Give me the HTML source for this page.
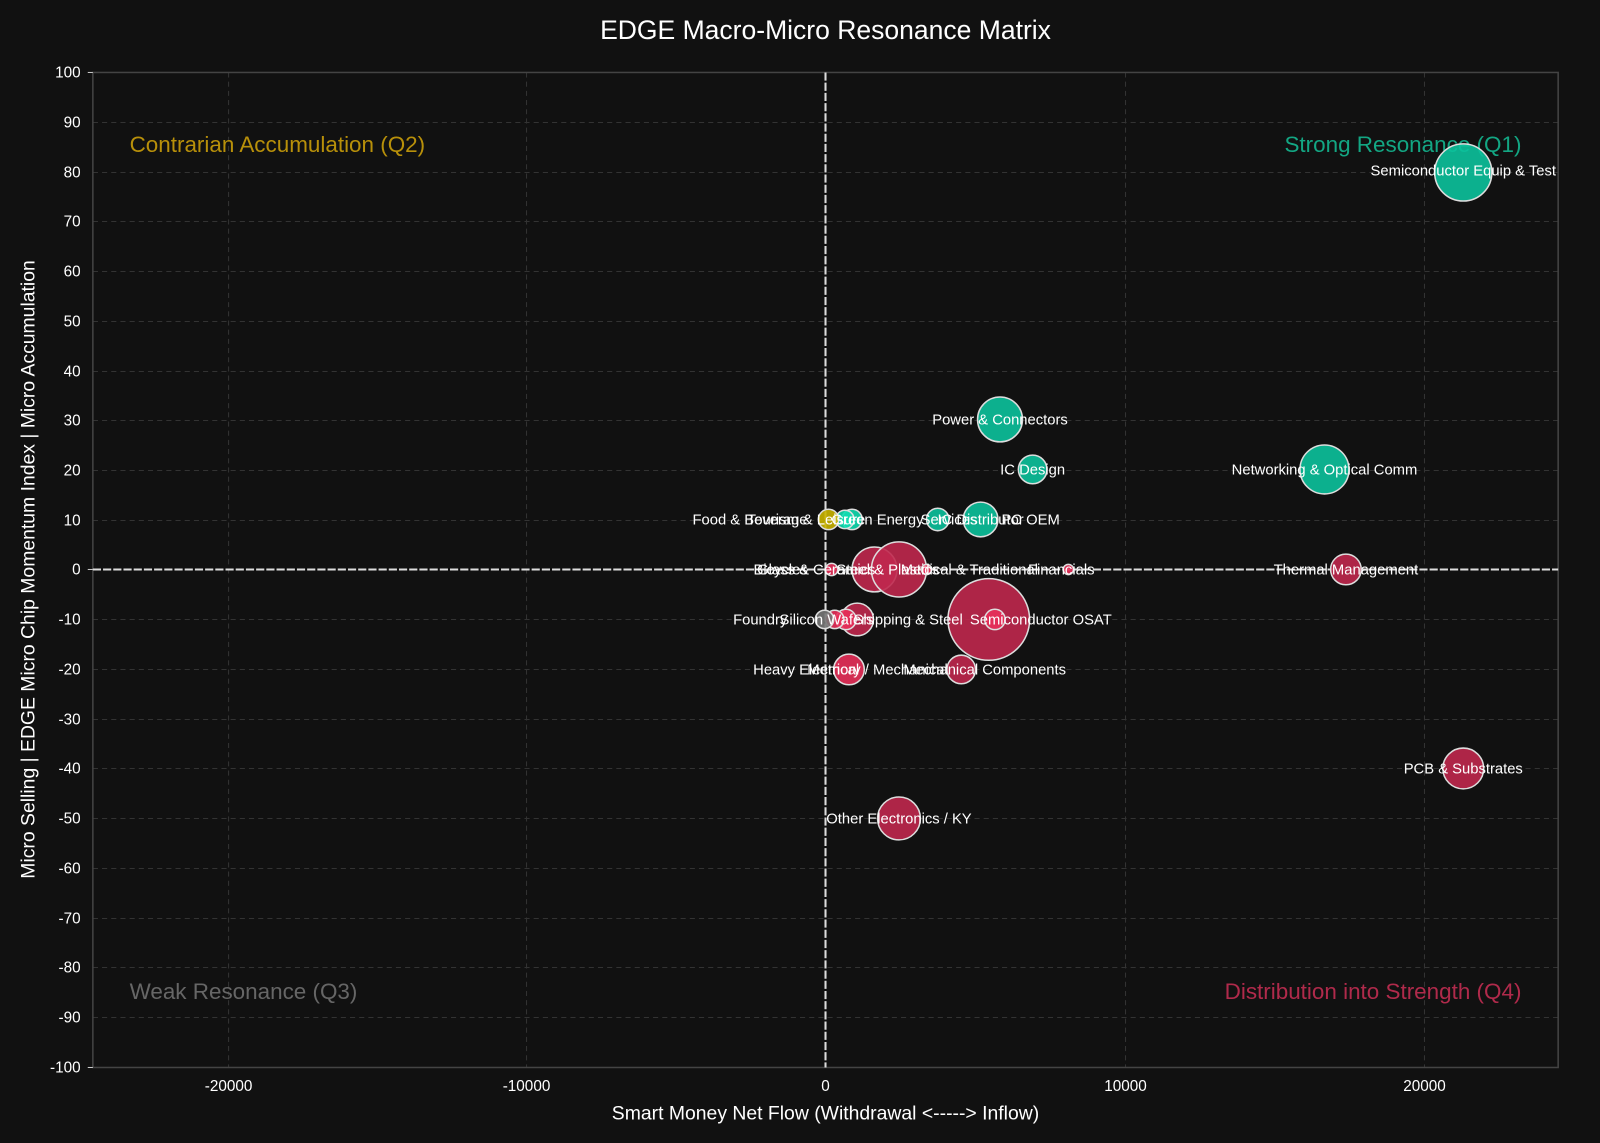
<!DOCTYPE html>
<html><head><meta charset="utf-8"><style>
html,body{margin:0;padding:0;background:#111111;}
svg{display:block;font-family:"Liberation Sans","DejaVu Sans",sans-serif;}
</style></head><body>
<svg width="1600" height="1143" viewBox="0 0 1568 1120" preserveAspectRatio="none" xmlns="http://www.w3.org/2000/svg">
<rect width="1568" height="1120" fill="#111111"/>
<text x="809" y="38" fill="#ffffff" font-size="26" text-anchor="middle">EDGE Macro-Micro Resonance Matrix</text>
<g stroke="#333" stroke-width="1" stroke-dasharray="5,4">
<line x1="224" y1="71" x2="224" y2="1046"/><line x1="516" y1="71" x2="516" y2="1046"/>
<line x1="1103" y1="71" x2="1103" y2="1046"/><line x1="1396" y1="71" x2="1396" y2="1046"/>
<line x1="91" y1="120" x2="1527" y2="120"/><line x1="91" y1="169" x2="1527" y2="169"/>
<line x1="91" y1="217" x2="1527" y2="217"/><line x1="91" y1="266" x2="1527" y2="266"/>
<line x1="91" y1="315" x2="1527" y2="315"/><line x1="91" y1="364" x2="1527" y2="364"/>
<line x1="91" y1="412" x2="1527" y2="412"/><line x1="91" y1="461" x2="1527" y2="461"/>
<line x1="91" y1="510" x2="1527" y2="510"/><line x1="91" y1="607" x2="1527" y2="607"/>
<line x1="91" y1="656" x2="1527" y2="656"/><line x1="91" y1="705" x2="1527" y2="705"/>
<line x1="91" y1="753" x2="1527" y2="753"/><line x1="91" y1="802" x2="1527" y2="802"/>
<line x1="91" y1="851" x2="1527" y2="851"/><line x1="91" y1="900" x2="1527" y2="900"/>
<line x1="91" y1="948" x2="1527" y2="948"/><line x1="91" y1="997" x2="1527" y2="997"/>
</g>
<rect x="91" y="71" width="1436" height="975" fill="none" stroke="#444" stroke-width="1.5"/>
<g stroke="#ccc" stroke-width="1">
<line x1="86" y1="71" x2="91" y2="71"/><line x1="86" y1="558" x2="91" y2="558"/><line x1="86" y1="1046" x2="91" y2="1046"/>
</g>
<g fill="#fff" font-size="15" text-anchor="end">
<text x="79" y="76">100</text><text x="79" y="125">90</text><text x="79" y="174">80</text><text x="79" y="222">70</text>
<text x="79" y="271">60</text><text x="79" y="320">50</text><text x="79" y="369">40</text><text x="79" y="417">30</text>
<text x="79" y="466">20</text><text x="79" y="515">10</text><text x="79" y="563">0</text><text x="79" y="612">-10</text>
<text x="79" y="661">-20</text><text x="79" y="710">-30</text><text x="79" y="758">-40</text><text x="79" y="807">-50</text>
<text x="79" y="856">-60</text><text x="79" y="905">-70</text><text x="79" y="953">-80</text><text x="79" y="1002">-90</text>
<text x="79" y="1051">-100</text>
</g>
<g fill="#fff" font-size="15" text-anchor="middle">
<text x="224" y="1069">-20000</text><text x="516" y="1069">-10000</text><text x="809" y="1069">0</text>
<text x="1103" y="1069">10000</text><text x="1396" y="1069">20000</text>
</g>
<text x="809" y="1097" fill="#fff" font-size="19" text-anchor="middle">Smart Money Net Flow (Withdrawal &lt;-----&gt; Inflow)</text>
<text transform="translate(34,558) rotate(-90)" fill="#fff" font-size="19" text-anchor="middle">Micro Selling | EDGE Micro Chip Momentum Index | Micro Accumulation</text>
<g font-size="22">
<text x="127" y="149" fill="#b8900a">Contrarian Accumulation (Q2)</text>
<text x="1491" y="149" fill="#13a683" text-anchor="end">Strong Resonance (Q1)</text>
<text x="127" y="979" fill="#666">Weak Resonance (Q3)</text>
<text x="1491" y="979" fill="#b02a4b" text-anchor="end">Distribution into Strength (Q4)</text>
</g>
<g stroke="#ddd" stroke-width="2" stroke-dasharray="8,2">
<line x1="809" y1="71" x2="809" y2="1046"/><line x1="91" y1="558" x2="1527" y2="558"/>
</g>
<g stroke="#ddd" stroke-width="1.5" fill-opacity="0.9">
<circle cx="1434" cy="169" r="28" fill="#0cc29c"/>
<circle cx="980" cy="411" r="22" fill="#0cc29c"/>
<circle cx="1012" cy="460" r="14" fill="#0cc29c"/>
<circle cx="1298" cy="460" r="24" fill="#0cc29c"/>
<circle cx="961" cy="509" r="17" fill="#0cc29c"/>
<circle cx="919" cy="509" r="11" fill="#0cc29c"/>
<circle cx="835" cy="509" r="10" fill="#10dcb0"/>
<circle cx="828" cy="509" r="9" fill="#10dcb0"/>
<circle cx="812" cy="509" r="10" fill="#c9b400"/>
<circle cx="969" cy="607" r="40" fill="#c0284e"/>
<circle cx="975" cy="607" r="10" fill="#e8305a"/>
<circle cx="857" cy="558" r="22" fill="#c0284e"/>
<circle cx="881" cy="558" r="27" fill="#c0284e"/>
<circle cx="815" cy="558" r="6" fill="#e8305a"/>
<circle cx="908" cy="558" r="5" fill="#e8305a"/>
<circle cx="1047" cy="558" r="5" fill="#e8305a"/>
<circle cx="1319" cy="558" r="15" fill="#c0284e"/>
<circle cx="840" cy="607" r="16" fill="#c0284e"/>
<circle cx="829" cy="607" r="10" fill="#e8305a"/>
<circle cx="818" cy="607" r="9" fill="#e8305a"/>
<circle cx="808" cy="607" r="9" fill="#777"/>
<circle cx="832" cy="656" r="15" fill="#e8305a"/>
<circle cx="942" cy="656" r="14" fill="#c0284e"/>
<circle cx="1434" cy="753" r="20" fill="#c0284e"/>
<circle cx="881" cy="802" r="21" fill="#c0284e"/>
</g>
<g fill="#fff" font-size="14.5" text-anchor="middle">
<text x="1434" y="172">Semiconductor Equip &amp; Test</text>
<text x="980" y="416">Power &amp; Connectors</text>
<text x="1012" y="465">IC Design</text>
<text x="1298" y="465">Networking &amp; Optical Comm</text>
<text x="735" y="514">Food &amp; Beverage</text>
<text x="790" y="514">Tourism &amp; Leisure</text>
<text x="860" y="514">Green Energy</text>
<text x="930" y="514">Services</text>
<text x="961" y="514">IC Distributor</text>
<text x="1010" y="514">PC OEM</text>
<text x="765" y="563">Bicycles</text>
<text x="800" y="563">Glass &amp; Ceramics</text>
<text x="870" y="563">Steel &amp; Plastics</text>
<text x="950" y="563">Medical &amp; Traditional</text>
<text x="1040" y="563">Financials</text>
<text x="1319" y="563">Thermal Management</text>
<text x="745" y="612">Foundry</text>
<text x="810" y="612">Silicon Wafers</text>
<text x="890" y="612">Shipping &amp; Steel</text>
<text x="1020" y="612">Semiconductor OSAT</text>
<text x="790" y="661">Heavy Electrical</text>
<text x="860" y="661">Memory / Mechanical</text>
<text x="965" y="661">Mechanical Components</text>
<text x="1434" y="758">PCB &amp; Substrates</text>
<text x="881" y="807">Other Electronics / KY</text>
</g>
</svg>
</body></html>
